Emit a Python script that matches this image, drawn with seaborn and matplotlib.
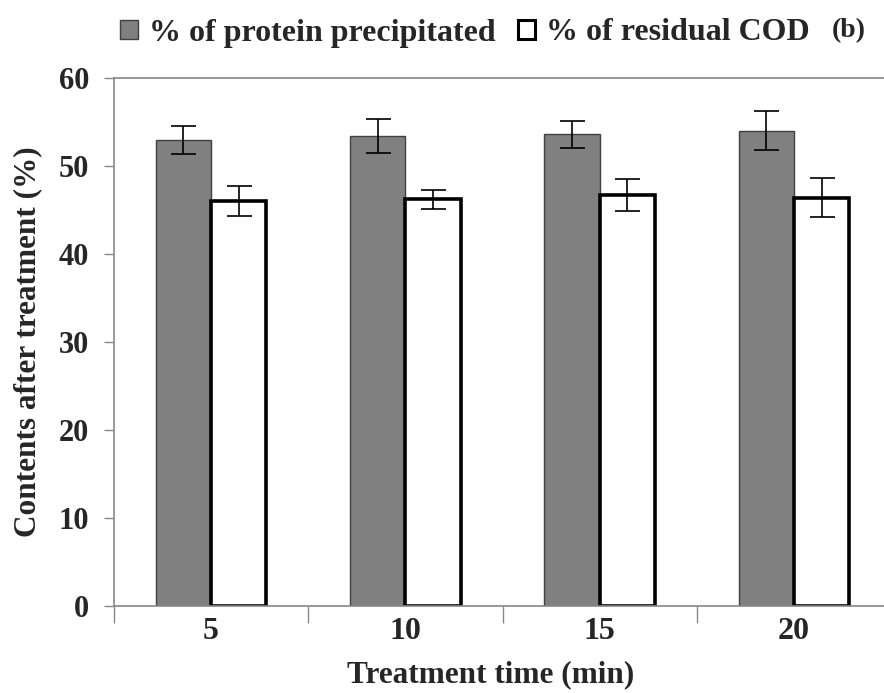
import matplotlib
matplotlib.use("Agg")
import matplotlib.pyplot as plt
import seaborn as sns
import pandas as pd
import numpy as np
from matplotlib.patches import Patch

times = ["5", "10", "15", "20"]
series = ["% of protein precipitated", "% of residual COD"]
protein = [53.0, 53.4, 53.6, 54.0]
protein_err = [1.6, 1.9, 1.5, 2.2]
cod = [46.0, 46.2, 46.7, 46.4]
cod_err = [1.7, 1.1, 1.8, 2.2]
yticks = [0, 10, 20, 30, 40, 50, 60]

sns.set_theme(style="white")
plt.rcParams['font.family'] = ['Liberation Serif', 'DejaVu Serif']
plt.rcParams['font.weight'] = 'bold'

df = pd.DataFrame({
    "time": times * 2,
    "series": [series[0]] * 4 + [series[1]] * 4,
    "value": protein + cod,
})

fig = plt.figure(figsize=(8.84, 6.93), dpi=100)
ax = fig.add_axes([114/884, 87/693, 777/884, 528/693])

sns.barplot(data=df, x="time", y="value", hue="series", order=times,
            hue_order=series, palette=["#808080", "#ffffff"], width=0.57,
            errorbar=None, ax=ax, legend=False)

patches = ax.patches
errs = protein_err + cod_err
for i, p in enumerate(patches[:8]):
    if i < 4:
        p.set_edgecolor("#404040"); p.set_linewidth(1.0)
    else:
        p.set_edgecolor("black"); p.set_linewidth(2.6)
    x = p.get_x() + p.get_width() / 2
    ax.errorbar(x, p.get_height(), yerr=errs[i], fmt="none", ecolor="black",
                elinewidth=1.2, capsize=9, capthick=1.2, zorder=5)

ax.set_ylim(0, 60)
ax.set_yticks(yticks)
ax.set_xlim(-0.5, 3.5)
ax.set_xticks(np.arange(-0.5, 4.0, 1.0), minor=False)
ax.set_xticklabels([])
ax.set_xticks(np.arange(4), minor=True)
ax.set_xticklabels(times, minor=True)
ax.tick_params(axis="x", which="both", bottom=True)
ax.tick_params(axis="y", left=True)
ax.tick_params(axis="x", which="minor", length=0, pad=8, labelsize=23)
ax.tick_params(axis="x", which="major", length=12, width=1, color="#888888", direction="out")
ax.tick_params(axis="y", length=7, width=1, color="#888888", direction="out", labelsize=22, pad=11)
for lab in ax.get_xticklabels(minor=True) + ax.get_yticklabels():
    lab.set_fontweight("bold")

for s in ["left", "bottom", "top", "right"]:
    ax.spines[s].set_color("#888888")
    ax.spines[s].set_linewidth(1.2)
ax.spines["right"].set_visible(False)

ax.set_xlabel("Treatment time (min)", fontsize=22.5, fontweight="bold")
ax.xaxis.set_label_coords((491 - 114) / 777, (606 - 660) / 528)
ax.set_ylabel("Contents after treatment (%)", fontsize=22.5, fontweight="bold", labelpad=12)

handles = [Patch(facecolor="#808080", edgecolor="#404040", linewidth=1.0),
           Patch(facecolor="white", edgecolor="black", linewidth=2.2)]
fig.legend(handles, series, loc="center left", bbox_to_anchor=(120/884, 1 - 33/693),
           ncol=2, frameon=False, prop={"family": "Liberation Serif", "weight": "bold", "size": 23},
           handlelength=0.55, handleheight=0.55, handletextpad=0.35, columnspacing=0.7,
           borderpad=0, borderaxespad=0)
fig.text(849/884, 1 - 31/693, "(b)", fontsize=20, fontweight="bold", ha="center", va="center")

fig.savefig("out.png", dpi=100)
